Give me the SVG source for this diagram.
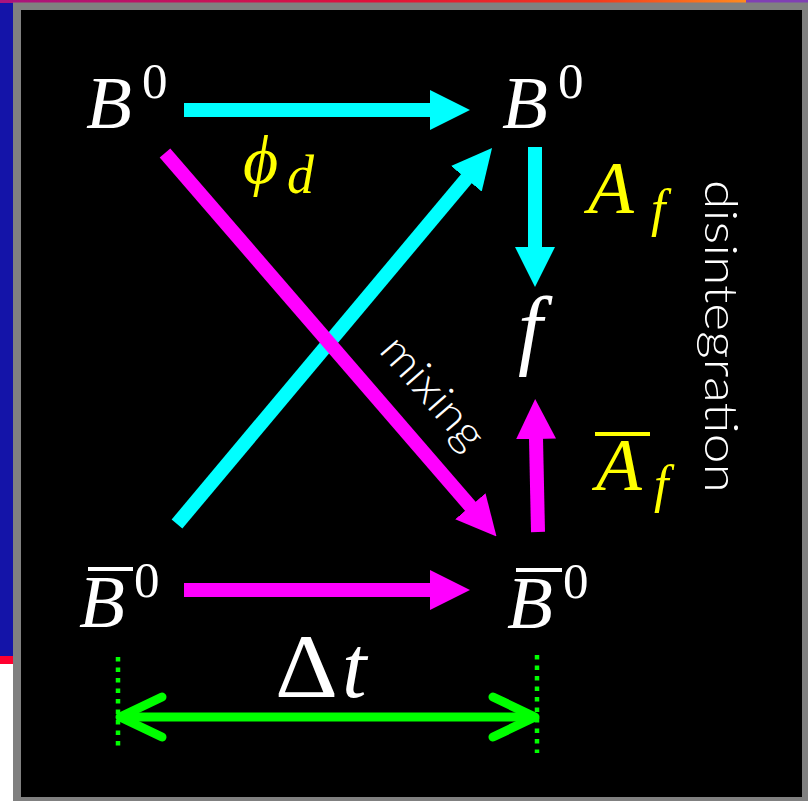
<svg xmlns="http://www.w3.org/2000/svg" width="808" height="801" viewBox="0 0 808 801">
<defs>
<linearGradient id="topgrad" x1="0" y1="0" x2="1" y2="0">
<stop offset="0" stop-color="#a8147e"/>
<stop offset="0.5" stop-color="#e0103a"/>
<stop offset="0.8" stop-color="#f23a1c"/>
<stop offset="1" stop-color="#ff8a1e"/>
</linearGradient>
<marker id="hc" viewBox="0 0 40 40" refX="1" refY="20" markerWidth="40" markerHeight="40" markerUnits="userSpaceOnUse" orient="auto">
<path d="M0,0 L40,20 L0,40 Z" fill="#00ffff"/>
</marker>
<marker id="hm" viewBox="0 0 40 40" refX="1" refY="20" markerWidth="40" markerHeight="40" markerUnits="userSpaceOnUse" orient="auto">
<path d="M0,0 L40,20 L0,40 Z" fill="#ff00ff"/>
</marker>
</defs>
<style>
.m{font-family:"Liberation Serif","Times New Roman",serif;fill:#ffffff}
.i{font-style:italic}
.y{fill:#ffff00}
.hand{font-family:"Lato","Open Sans",sans-serif;font-weight:300;fill:#ffffff}
.cy{stroke:#00ffff;stroke-width:14;fill:none}
.mg{stroke:#ff00ff;stroke-width:14;fill:none}
.gr{stroke:#00ff00;stroke-width:9;fill:none;stroke-linecap:round;stroke-linejoin:round}
.dot{stroke:#00ff00;stroke-width:4.5;fill:none;stroke-dasharray:4.5 6}
.bar{fill:#ffffff}
.ybar{fill:#ffff00}
</style>
<rect x="0" y="0" width="808" height="801" fill="#ffffff"/>
<rect x="0" y="0" width="746" height="3" fill="url(#topgrad)"/>
<rect x="746" y="0" width="62" height="3" fill="#8040b4"/>
<rect x="0" y="3" width="13" height="653" fill="#1414a8"/>
<rect x="0" y="656" width="13" height="8" fill="#ff0030"/>
<rect x="13" y="2.5" width="795" height="798.5" fill="#808080"/>
<rect x="21" y="10" width="781" height="787" fill="#000000"/>

<g id="connectors">
<line class="cy" x1="184" y1="110" x2="431" y2="110" marker-end="url(#hc)"/>
<line class="cy" x1="535" y1="147" x2="535" y2="248" marker-end="url(#hc)"/>
<line class="cy" x1="177" y1="524" x2="467" y2="178" marker-end="url(#hc)"/>
<line class="mg" x1="165" y1="153" x2="471" y2="507" marker-end="url(#hm)"/>
<line class="mg" x1="184" y1="590" x2="431" y2="590" marker-end="url(#hm)"/>
<line class="mg" x1="538" y1="532" x2="536" y2="438" marker-end="url(#hm)"/>
<line class="gr" x1="122" y1="717" x2="533" y2="717"/>
<polyline class="gr" points="493,697 535,717 493,737"/>
<polyline class="gr" points="162,697 120,717 162,737"/>
<line class="dot" x1="118" y1="657" x2="118" y2="749"/>
<line class="dot" x1="537" y1="655" x2="537" y2="753"/>
</g>

<g id="B0-top">
<text class="m i" x="86" y="128" font-size="75">B</text>
<text class="m" x="142" y="98" font-size="51">0</text>
</g>
<g id="B0-right">
<text class="m i" x="502" y="128" font-size="75">B</text>
<text class="m" x="558" y="98" font-size="51">0</text>
</g>
<g id="f-node">
<text class="m i" x="518" y="358" font-size="88">f</text>
</g>
<g id="Bbar-left">
<rect class="bar" x="88" y="567" width="45" height="4"/>
<text class="m i" x="79" y="627" font-size="75">B</text>
<text class="m" x="134" y="597" font-size="51">0</text>
</g>
<g id="Bbar-right">
<rect class="bar" x="516" y="568" width="46" height="4"/>
<text class="m i" x="507" y="628" font-size="75">B</text>
<text class="m" x="563" y="598" font-size="51">0</text>
</g>

<g id="label-phi">
<text class="m i y" x="243" y="183" font-size="68">ϕ</text>
<text class="m i y" x="287" y="193" font-size="54">d</text>
</g>
<g id="label-Af">
<text class="m i y" x="588" y="213" font-size="75">A</text>
<text class="m i y" x="651" y="226" font-size="52">f</text>
</g>
<g id="label-Abarf">
<rect class="ybar" x="595" y="432" width="55" height="4"/>
<text class="m i y" x="596" y="490" font-size="75">A</text>
<text class="m i y" x="654" y="502" font-size="52">f</text>
</g>
<g id="label-mixing">
<text class="hand" x="422" y="402" font-size="44" text-anchor="middle" textLength="135" lengthAdjust="spacingAndGlyphs" transform="rotate(49 422 402)">mixing</text>
</g>
<g id="label-disintegration">
<text class="hand" x="705" y="180" font-size="46" textLength="313" lengthAdjust="spacingAndGlyphs" transform="rotate(90 705 180)">disintegration</text>
</g>
<g id="label-dt">
<text class="m" x="275" y="697" font-size="90" textLength="63" lengthAdjust="spacingAndGlyphs">Δ</text>
<text class="m i" x="342" y="697" font-size="88">t</text>
</g>
</svg>
